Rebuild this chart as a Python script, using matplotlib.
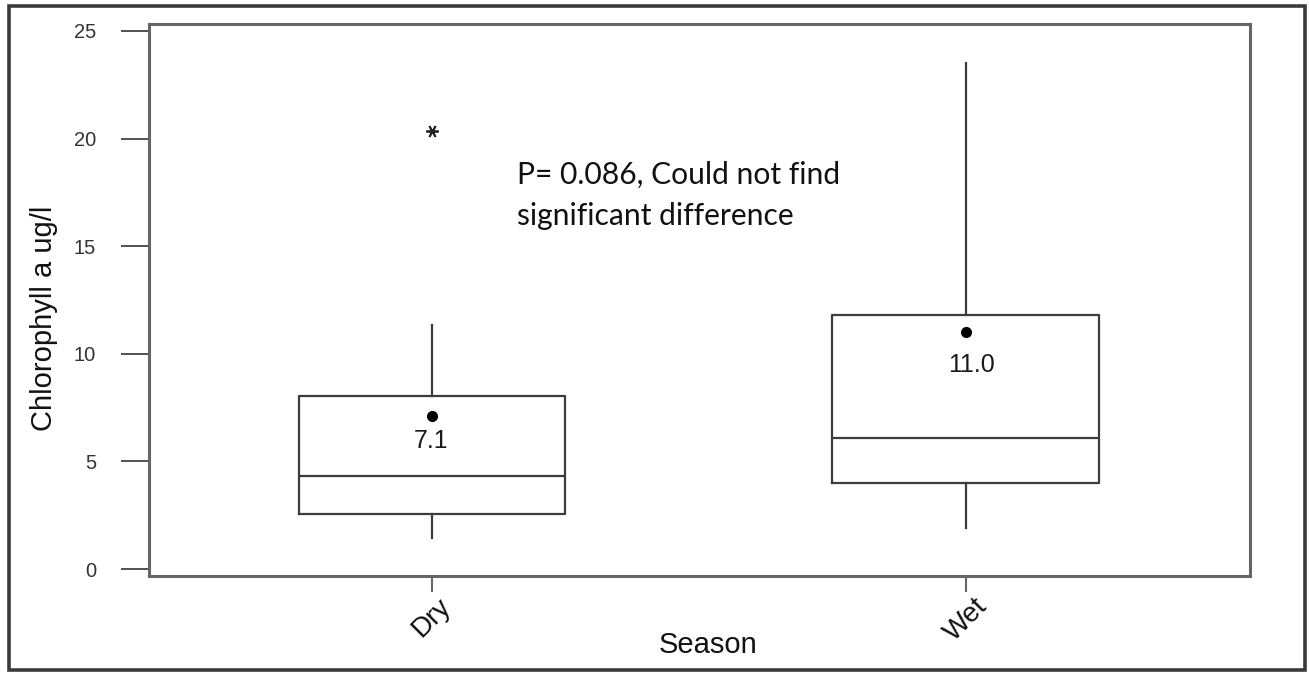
import matplotlib.pyplot as plt
from matplotlib.patches import Rectangle

# Season box plot statistics (Chlorophyll a, ug/l)
seasons = ['Dry', 'Wet']
whisker_low = [1.45, 1.9]
q1 = [2.56, 4.0]
medians = [4.3, 6.1]
q3 = [8.05, 11.78]
whisker_high = [11.35, 23.5]
means = [7.1, 11.0]
outliers = [[20.35], []]
mean_labels = ['7.1', '11.0']
note = 'P= 0.086, Could not find\nsignificant difference'

plt.rcParams['font.family'] = ['Liberation Sans', 'DejaVu Sans']

fig = plt.figure(figsize=(13.09, 6.73), dpi=100)
ax = fig.add_axes([149 / 1309, 1 - 576 / 673, 1101 / 1309, 552 / 673])

stats = []
for i in range(len(seasons)):
    stats.append({
        'label': seasons[i],
        'whislo': whisker_low[i],
        'q1': q1[i],
        'med': medians[i],
        'q3': q3[i],
        'whishi': whisker_high[i],
        'mean': means[i],
        'fliers': outliers[i],
    })

line_col = '#3c3c3c'
ax.bxp(stats, positions=[1, 2], widths=0.5, showmeans=True, showcaps=False,
       boxprops=dict(color=line_col, linewidth=1.6),
       medianprops=dict(color=line_col, linewidth=1.6),
       whiskerprops=dict(color=line_col, linewidth=1.6),
       meanprops=dict(marker='o', markerfacecolor='black', markeredgecolor='black',
                      markersize=7),
       flierprops=dict(marker=(6, 2, 90), markeredgecolor='#222222',
                       markersize=9, markeredgewidth=1.3))

# mean value labels under the mean dots (pixel offsets below each dot)
label_drop = [(-0.5, -25), (6, -33)]
for i in range(len(seasons)):
    ax.annotate(mean_labels[i], xy=(i + 1, means[i]), xytext=label_drop[i],
                textcoords='offset pixels', ha='center', va='center',
                fontsize=18, color='#1a1a1a')

ax.text(1.159, 17.38, note, ha='left', va='center', fontsize=21.6,
        family=['Lato', 'DejaVu Sans'], color='#111111', linespacing=1.57)

ax.set_xlim(0.47, 2.532)
ax.set_ylim(-0.325, 25.325)
ax.set_yticks([0, 5, 10, 15, 20, 25])
ax.tick_params(axis='y', direction='out', length=20, width=1.2, color='#333333',
               pad=18, labelsize=14.5, labelcolor='#333333')
ax.tick_params(axis='x', direction='out', length=11.5, width=1.5, color='#666666',
               pad=1, labelsize=20, labelcolor='#111111')
ax.set_xticks([1, 2])
ax.set_xticklabels(seasons, rotation=45, ha='center', va='top')

for side in ax.spines.values():
    side.set_color('#666666')
    side.set_linewidth(2.2)

ax.set_xlabel('Season', fontsize=21, color='#111111', va='center')
ax.xaxis.set_label_coords(0.508, -0.125)
ax.set_ylabel('Chlorophyll a ug/l', fontsize=21, color='#111111', va='center')
ax.yaxis.set_label_coords(-0.0954, 0.467)

# outer frame round the whole picture
fig.patches.append(Rectangle((8.5 / 1309, 3 / 673), 1296.5 / 1309, 664 / 673,
                             transform=fig.transFigure, fill=False,
                             edgecolor='#3a3a3a', linewidth=2.6))

fig.savefig('out.png', dpi=100)
